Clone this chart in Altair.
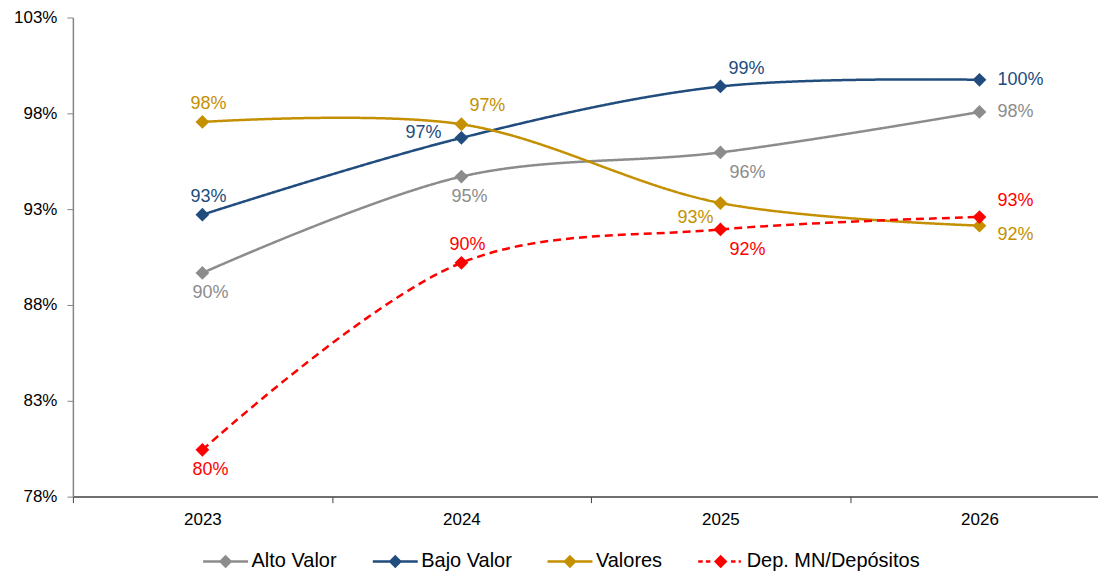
import altair as alt
import pandas as pd

# ---------------- data ----------------
years = ["2023", "2024", "2025", "2026"]
series = ["Alto Valor", "Bajo Valor", "Valores", "Dep. MN/Depósitos"]
alto_valor = [0.8967, 0.9470, 0.9596, 0.9807]
bajo_valor = [0.9271, 0.9672, 0.9940, 0.9975]
valores = [0.9755, 0.9743, 0.9332, 0.9214]
dep_mn = [0.8044, 0.9020, 0.9194, 0.9259]
y_ticks = [0.78, 0.83, 0.88, 0.93, 0.98, 1.03]

# ---------------- style ----------------
colors = ["#8c8c8c", "#214c7e", "#c49000", "#ff0000"]
dashes = [[1, 0], [1, 0], [1, 0], [8, 5]]
label_place = {
    "Alto Valor": ["below", "below", "below_right", "right"],
    "Bajo Valor": ["above", "above_left", "above_right", "right"],
    "Valores": ["above", "above_right", "below_left", "right_down"],
    "Dep. MN/Depósitos": ["below", "above", "below_right", "right_up"],
}
placements = {
    "above": (6, -18, "center"),
    "below": (8, 20, "center"),
    "above_left": (-20, -5, "right"),
    "above_right": (26, -18, "center"),
    "below_right": (27, 21, "center"),
    "below_left": (-25, 15, "center"),
    "right": (18, 0, "left"),
    "right_up": (18, -16, "left"),
    "right_down": (18, 9, "left"),
}
solid = "M-1,0H1"
dashed = "M-1,0H-0.8M-0.66,0H-0.46M0.46,0H0.66M0.8,0H0.9"
diamond = ("M0,-0.22L0.22,0L0,0.22L-0.22,0Z"
           "M0,-0.13L0.13,0L0,0.13L-0.13,0Z"
           "M0,-0.05L0.05,0L0,0.05L-0.05,0Z")
legend_paths = [solid + diamond, solid + diamond, solid + diamond, dashed + diamond]
FONT = "Liberation Sans"

color_of = dict(zip(series, colors))
dash_of = dict(zip(series, dashes))
alpha = sorted(series)  # data-driven (alphabetical) domain for the unlabeled scales
alpha_colors = [color_of[s] for s in alpha]
alpha_dashes = [dash_of[s] for s in alpha]

values_by_series = dict(zip(series, [alto_valor, bajo_valor, valores, dep_mn]))
rows = []
for s in series:
    for i, yr in enumerate(years):
        rows.append({"series": s, "year": yr, "value": values_by_series[s][i],
                     "place": label_place[s][i]})
df = pd.DataFrame(rows)

x_enc = alt.X(
    "year:O",
    bandPosition=0.5,
    sort=years,
    scale=alt.Scale(type="band", domain=years, range=[0, 1038], paddingInner=0, paddingOuter=0),
    axis=alt.Axis(title=None, tickBand="extent", labelAngle=0, labelFontSize=17,
                  labelColor="#000000", labelPadding=9, tickSize=6,
                  tickColor="#404040", domainColor="#404040", domainWidth=1.5,
                  grid=False, labelFont=FONT),
)
y_enc = alt.Y(
    "value:Q",
    scale=alt.Scale(domain=[0.78, 1.03], nice=False, zero=False),
    axis=alt.Axis(title=None, values=y_ticks, format=".0%", grid=False,
                  labelFontSize=17, labelColor="#000000", labelPadding=10,
                  tickSize=6, tickColor="#868686", domainColor="#868686",
                  domainWidth=1.5, labelFont=FONT),
)

base = alt.Chart(df)

lines = base.mark_line(interpolate="catmull-rom", strokeWidth=2.5).encode(
    x=x_enc, y=y_enc,
    stroke=alt.Stroke("series:N", scale=alt.Scale(range=alpha_colors), legend=None),
    strokeDash=alt.StrokeDash("series:N", scale=alt.Scale(range=alpha_dashes), legend=None),
)

markers = base.mark_point(shape="diamond", filled=True, size=190, opacity=1).encode(
    x=x_enc, y=y_enc,
    fill=alt.Fill("series:N", scale=alt.Scale(range=alpha_colors), legend=None),
)

leg = alt.Legend(orient="none", legendX=129, legendY=521, direction="horizontal",
                 columns=4, title=None, symbolSize=2025, symbolStrokeWidth=2.5,
                 symbolOpacity=1, labelFontSize=20, labelFont=FONT,
                 labelColor="#000000", columnPadding=30, labelOffset=2,
                 padding=0, labelLimit=400)

legend_layer = base.mark_point(filled=False, opacity=0, strokeWidth=2.5).encode(
    x=x_enc, y=y_enc,
    color=alt.Color("series:N", scale=alt.Scale(domain=series, range=colors), legend=leg),
    shape=alt.Shape("series:N", scale=alt.Scale(domain=series, range=legend_paths), legend=leg),
)

text_layers = []
for name, (dx, dy, align) in placements.items():
    t = base.transform_filter(alt.datum.place == name).mark_text(
        dx=dx, dy=dy, align=align, baseline="middle", fontSize=18, font=FONT
    ).encode(
        x=x_enc, y=y_enc,
        text=alt.Text("value:Q", format=".0%"),
        fill=alt.Fill("series:N", scale=alt.Scale(range=alpha_colors), legend=None),
    )
    text_layers.append(t)

chart = alt.layer(lines, markers, legend_layer, *text_layers).properties(
    width=1027,
    height=480,
    padding={"left": 65, "top": 9, "right": 0, "bottom": 76},
    autosize=alt.AutoSizeParams(type="none"),
    background="white",
).configure_view(stroke=None)

chart.save("out.html", embed_options={"renderer": "svg", "actions": False})
